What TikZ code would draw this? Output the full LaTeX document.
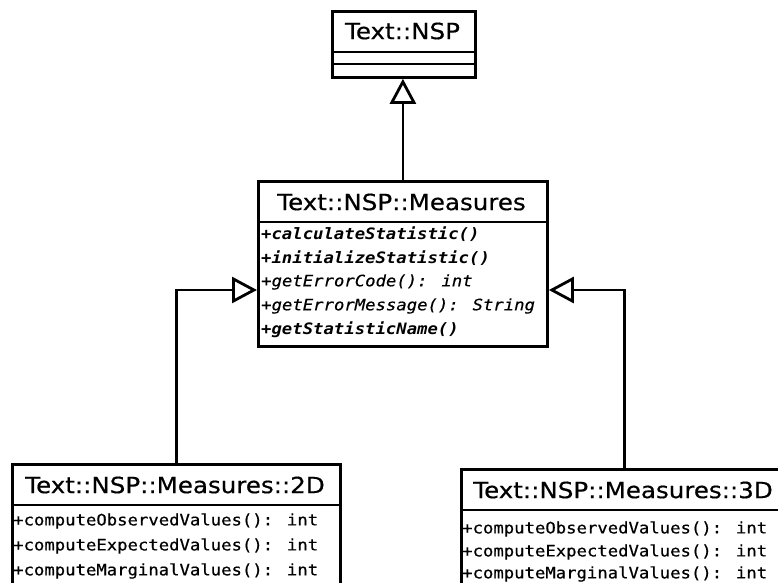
\documentclass[tikz,border=0pt]{standalone}
\usepackage{fontspec}
\setmainfont{DejaVu Sans}[FakeStretch=1.1, FakeBold=0.5]
\newfontfamily\monof{DejaVu Sans Mono}[FakeStretch=1.1, UprightFeatures={FakeBold=0.6}, ItalicFeatures={FakeBold=0.4}]
\usetikzlibrary{arrows.meta}
\begin{document}
\begin{tikzpicture}[x=1pt,y=-1pt,
  box/.style={draw, line width=2.8pt, rectangle, anchor=north west, inner sep=0pt},
  ttl/.style={font=\fontsize{22.3}{24}\selectfont, inner sep=0pt},
  row/.style={font=\monof\fontsize{15.7}{17}\selectfont, anchor=west, inner sep=0pt},
  sepline/.style={line width=2pt},
  inh/.style={line width=2.8pt, -{Triangle[open, length=25pt, width=26pt]}}]
\useasboundingbox (0,0) rectangle (778,582);
\clip (0,0) rectangle (778,582);

% Text::NSP
\node[box, minimum width=143pt, minimum height=66pt] (nsp) at (331,10) {};
\node[ttl] (nspT) at (402.5,31) {Text::NSP};
\draw[sepline] (nsp.west |- 0,52) -- (nsp.east |- 0,52);
\draw[sepline] (nsp.west |- 0,64) -- (nsp.east |- 0,64);

% Text::NSP::Measures
\node[box, minimum width=289pt, minimum height=165pt] (meas) at (257,180) {};
\node[ttl] (measT) at (401.5,202) {Text::NSP::Measures};
\draw[sepline] (meas.west |- 0,222) -- (meas.east |- 0,222);
\node[row] (m1) at (261,234) {\bfseries\itshape +calculateStatistic()};
\node[row] (m2) at (261,258) {\bfseries\itshape +initializeStatistic()};
\node[row] (m3) at (261,282) {\itshape +getErrorCode(): int};
\node[row] (m4) at (261,306) {\itshape +getErrorMessage(): String};
\node[row] (m5) at (261,330) {\bfseries\itshape +getStatisticName()};

% Text::NSP::Measures::2D
\node[box, minimum width=328pt, minimum height=150pt] (d2) at (11,463) {};
\node[ttl] (d2T) at (175,485) {Text::NSP::Measures::2D};
\draw[sepline] (d2.west |- 0,505) -- (d2.east |- 0,505);
\node[row] (a1) at (13,521) {+computeObservedValues(): int};
\node[row] (a2) at (13,546) {+computeExpectedValues(): int};
\node[row] (a3) at (13,571) {+computeMarginalValues(): int};

% Text::NSP::Measures::3D
\node[box, minimum width=326pt, minimum height=150pt] (d3) at (460,468) {};
\node[ttl] (d3T) at (623,490) {Text::NSP::Measures::3D};
\draw[sepline] (d3.west |- 0,510) -- (d3.east |- 0,510);
\node[row] (b1) at (462,529) {+computeObservedValues(): int};
\node[row] (b2) at (462,552) {+computeExpectedValues(): int};
\node[row] (b3) at (462,574) {+computeMarginalValues(): int};

% inheritance connectors
\draw[inh] (meas.north) -- (meas.north |- nsp.south);
\draw[inh] (d2.north) |- (meas.west |- 0,290);
\draw[inh] (d3.north) |- (meas.east |- 0,290);
\end{tikzpicture}
\end{document}
